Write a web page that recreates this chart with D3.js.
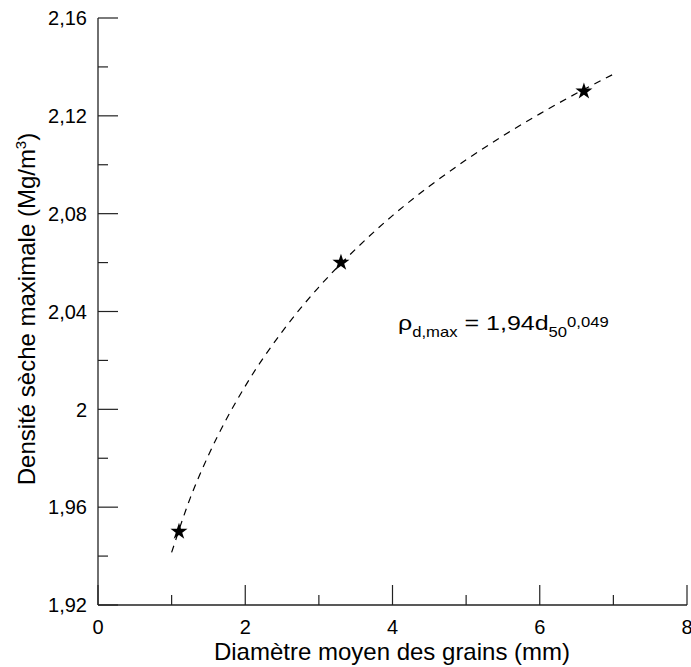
<!DOCTYPE html>
<html><head><meta charset="utf-8">
<script src="https://cdn.jsdelivr.net/npm/d3@7"></script>
<style>body{margin:0;background:#fff}svg{display:block}text{font-family:"Liberation Sans",Arial,sans-serif;fill:#000}</style>
</head><body><svg id="c" width="691" height="667"></svg>
<script>
const pointsX = [1.1, 3.3, 6.6];
const pointsY = [1.95, 2.06, 2.13];
const fitX = [1, 1.25, 1.5, 2, 2.5, 3, 3.5, 4, 4.5, 5, 5.5, 6, 6.5, 7];
const fitY = [1.9415, 1.9635, 1.9812, 2.0095, 2.0317, 2.0500, 2.0655, 2.0792, 2.0912, 2.1020, 2.1118, 2.1208, 2.1292, 2.1370];
const xMajor = [0, 2, 4, 6, 8];
const xMinor = [1, 3, 5, 7];
const yMajor = [1.92, 1.96, 2.00, 2.04, 2.08, 2.12, 2.16];
const yMinor = [1.94, 1.98, 2.02, 2.06, 2.10, 2.14];
const yTickLabels = ["1,92", "1,96", "2", "2,04", "2,08", "2,12", "2,16"];
const xTitle = "Diamètre moyen des grains (mm)";

const svg = d3.select("#c");
const L = 98, R = 687, T = 18, B = 605;
const x = d3.scaleLinear().domain([0, 8]).range([L, R]);
const y = d3.scaleLinear().domain([1.92, 2.16]).range([B, T]);

const ax = "#222";
svg.append("line").attr("x1", L).attr("x2", L).attr("y1", T).attr("y2", B).attr("stroke", ax).attr("stroke-width", 1.3);
svg.append("line").attr("x1", L).attr("x2", R).attr("y1", B).attr("y2", B).attr("stroke", ax).attr("stroke-width", 1.3);
svg.selectAll(".ytM").data(yMajor).join("line").attr("x1", L).attr("x2", L + 20).attr("y1", d => y(d)).attr("y2", d => y(d)).attr("stroke", ax).attr("stroke-width", 1.2);
svg.selectAll(".ytm").data(yMinor).join("line").attr("x1", L).attr("x2", L + 10).attr("y1", d => y(d)).attr("y2", d => y(d)).attr("stroke", ax).attr("stroke-width", 1.2);
svg.selectAll(".xtM").data(xMajor).join("line").attr("x1", d => x(d)).attr("x2", d => x(d)).attr("y1", B).attr("y2", B - 20).attr("stroke", ax).attr("stroke-width", 1.2);
svg.selectAll(".xtm").data(xMinor).join("line").attr("x1", d => x(d)).attr("x2", d => x(d)).attr("y1", B).attr("y2", B - 10).attr("stroke", ax).attr("stroke-width", 1.2);

svg.selectAll(".yl").data(yMajor).join("text").attr("x", L - 11).attr("y", d => y(d)).attr("dy", "0.36em")
  .attr("text-anchor", "end").attr("font-size", 20).text((d, i) => yTickLabels[i]);
svg.selectAll(".xl").data(xMajor).join("text").attr("x", d => x(d)).attr("y", 634)
  .attr("text-anchor", "middle").attr("font-size", 20).text(d => d);

svg.append("text").attr("x", 392).attr("y", 660).attr("text-anchor", "middle").attr("font-size", 24).text(xTitle);
const yt = svg.append("text").attr("transform", `translate(35,309) rotate(-90)`).attr("text-anchor", "middle").attr("font-size", 24);
yt.append("tspan").text("Densité sèche maximale (Mg/m");
yt.append("tspan").attr("font-size", 15).attr("dy", -9).text("3");
yt.append("tspan").attr("dy", 9).text(")");

// fit curve
const fit = fitX.map((d, i) => [d, fitY[i]]);
svg.append("path").datum(fit).attr("fill", "none").attr("stroke", "#000").attr("stroke-width", 1.2)
  .attr("stroke-dasharray", "7,6")
  .attr("d", d3.line().x(d => x(d[0])).y(d => y(d[1])).curve(d3.curveMonotoneX));

// points
svg.selectAll(".pt").data(pointsX.map((d, i) => [d, pointsY[i]])).join("path")
  .attr("transform", d => `translate(${x(d[0])},${y(d[1])})`)
  .attr("d", d3.symbol().type(d3.symbolStar).size(90)).attr("fill", "#000");

// equation
const eq = svg.append("text").attr("transform", "translate(398,329.5) scale(1.19,1)").attr("font-size", 21);
eq.append("tspan").text("ρ");
eq.append("tspan").attr("font-size", 14).attr("dy", 7.5).text("d,max");
eq.append("tspan").attr("dy", -7.5).text(" = 1,94d");
eq.append("tspan").attr("font-size", 14).attr("dy", 7.5).text("50");
eq.append("tspan").attr("font-size", 14).attr("dy", -10.5).text("0,049");
</script></body></html>
